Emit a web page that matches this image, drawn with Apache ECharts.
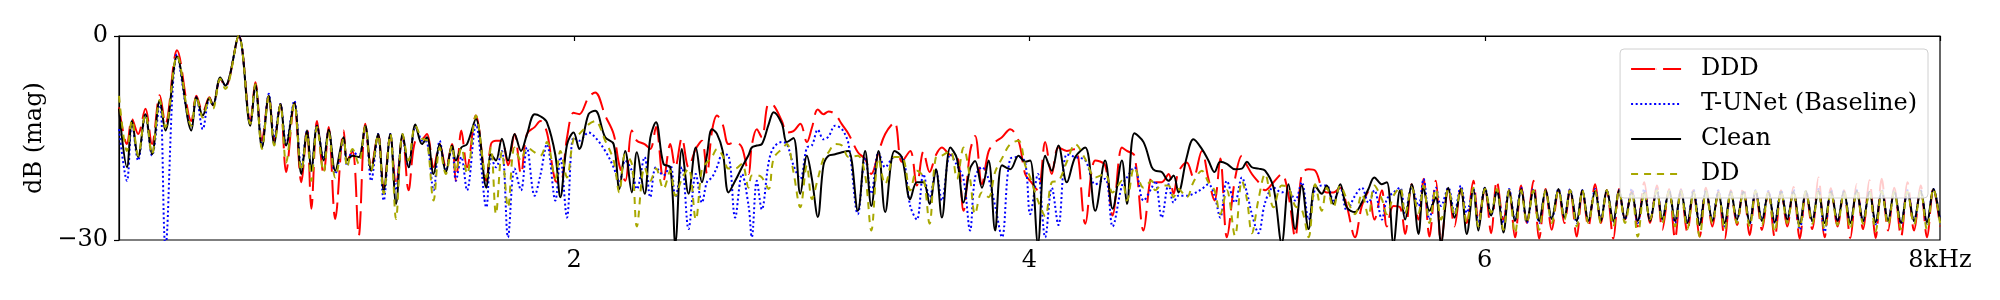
<!DOCTYPE html>
<html>
<head>
<meta charset="utf-8">
<script src="https://cdn.jsdelivr.net/npm/echarts/dist/echarts.min.js"></script>
<style>
html,body{margin:0;padding:0;background:#fff;}
#chart{width:2000px;height:300px;}
</style>
</head>
<body>
<div id="chart"></div>
<script>
// Frequencies (Hz) of the sampled points
var freqHz = [
0,35,57,84,116,145,179,204,255,318,340,368,397,413,445,467,526,577,599,628,658,682,709,734,770,801,826,845,870,899,921,950,987,1002,1026,1053,1082,1108,
1138,1163,1192,1217,1246,1272,1302,1331,1353,1382,1409,1436,1463,1480,1504,1529,1568,1614,1634,1656,1682,1709,1738,1766,1792,1826,1851,1880,1917,1939,1968,1997,2022,2063,2092,2136,2173,2198,2224,2253,
2275,2309,2334,2359,2392,2422,2444,2473,2502,2534,2561,2583,2605,2627,2652,2678,2707,2737,2766,2780,2802,2824,2854,2876,2912,2934,2963,2993,3022,3044,3070,3095,3117,3146,3176,3205,3246,3278,3305,3337,3366,3407,
3439,3476,3505,3534,3561,3589,3615,3652,3681,3710,3739,3761,3791,3820,3849,3879,3915,3952,3981,4003,4037,4069,4098,4127,4164,4201,4245,4289,4332,4365,4406,4428,4461,4501,4537,
4552,4581,4611,4633,4654,4691,4720,4757,4786,4813,4838,4867,4903,4933,4955,4977,5006,5035,5072,5108,5138,5167,5196,5226,5255,5284,5306,5335,5365,5394,5430,5460,5489,5515,5548,5570,5599,5628,5650,5679,
5709,5731,5757,5785,5808,5840,5867,5895,5921,5950,5972,6001,6028,6053,6082,6107,6133,6160,6185,6214,6239,6268,6294,6324,6350,6375,6404,6429,6455,6485,6510,6536,6565,6590,6616,6646,6672,6701,6726,6756,6780,6810,6836,
6862,6890,6917,6944,6972,7000,7026,7054,7081,7108,7136,7164,7190,7218,7246,7274,7302,7329,7356,7384,7411,7439,7466,7493,7521,7550,7578,7606,7634,7662,7690,7717,7744,7772,7799,7829,7857,7886,7915,7943,7971,8000
];

// DDD (dB)
var dddDb = [
-10.5,-15.9,-12.2,-14.4,-10.7,-15.9,-8.7,-12.9,-2.1,-12.5,-8.8,-11.2,-9.0,-10.2,-6.3,-7.5,0,-12.5,-6.8,-15.4,-8.8,-15.4,-10.0,-20.0,-9.8,-21.5,-13.5,-25.4,-12.5,-20.3,-13.4,-26.9,-13.9,-18.3,-16.9,-29.4,-12.9,-19.3,
-14.4,-22.3,-14.6,-22.0,-14.6,-22.7,-15.4,-15.2,-14.4,-19.3,-15.9,-19.3,-15.9,-21.3,-13.9,-19.3,-11.7,-21.3,-15.9,-15.4,-15.4,-19.0,-14.4,-20.3,-14.4,-13.4,-12.5,-14.2,-21.3,-21.5,-15.0,-11.3,-11.5,-9.0,-8.3,-11.7,-14.4,-19.0,-21.3,-13.9,
-15.4,-15.9,-16.6,-13.4,-21.3,-15.9,-19.3,-15.0,-19.3,-16.6,-15.4,-20.3,-14.0,-11.7,-13.0,-15.9,-15.6,-16.4,-20.3,-16.1,-13.7,-14.9,-10.0,-10.2,-12.5,-14.2,-14.0,-12.9,-15.6,-13.5,-10.8,-11.5,-11.1,-11.5,-13.0,-14.4,-17.1,-18.1,-20.3,-17.1,-14.4,-12.7,
-18.5,-16.9,-22.0,-17.0,-20.0,-17.5,-16.4,-17.5,-17.6,-25.7,-17.0,-14.7,-21.8,-17.0,-15.6,-14.9,-13.7,-15.4,-20.3,-21.3,-22.7,-15.6,-20.3,-16.4,-16.9,-16.6,-27.6,-18.3,-19.0,-26.4,-16.4,-16.9,-17.6,-28.6,-20.8,
-21.5,-21.5,-20.3,-23.2,-20.0,-18.6,-20.8,-16.9,-21.0,-24.2,-18.0,-29.6,-21.0,-17.6,-19.0,-20.3,-21.5,-22.7,-21.5,-20.3,-23.5,-29.6,-20.3,-19.6,-19.8,-22.3,-23.0,-23.0,-22.3,-25.0,-29.6,-25.0,-23.0,-27.0,-22.7,-28.0,-25.0,-25.2,-29.1,-21.8,
-27.0,-21.0,-29.5,-21.3,-30.5,-22.3,-28.0,-22.5,-27.5,-21.3,-27.0,-22.5,-29.0,-21.3,-27.0,-22.7,-29.6,-22.0,-27.5,-21.3,-29.8,-22.5,-28.5,-22.7,-27.5,-22.5,-29.5,-22.7,-28.0,-21.8,-27.5,-22.7,-29.8,-22.5,-27.0,-22.7,-28.0,-21.5,-27.5,-22.0,-28.5,-22.5,-29.8,
-22.5,-28.8,-22.7,-29.5,-22.3,-28.0,-22.8,-29.8,-22.7,-27.8,-22.2,-29.3,-22.6,-28.5,-22.8,-29.6,-22.7,-28.0,-22.2,-29.8,-22.7,-28.4,-20.8,-29.6,-22.4,-28.0,-22.7,-29.7,-21.8,-28.4,-21.2,-29.7,-21.0,-28.6,-22.3,-29.5,-21.5,-28.6,-22.0,-29.6,-22.4,-28.0
];

// T-UNet (Baseline) (dB)
var tunetDb = [
-13.7,-21.3,-12.7,-18.3,-11.7,-17.6,-9.5,-31,-2.7,-13.4,-9.0,-13.7,-9.3,-10.2,-6.3,-7.3,0,-12.9,-7.3,-16.1,-8.5,-14.9,-10.0,-15.9,-9.5,-19.3,-13.9,-19.8,-13.2,-18.1,-13.9,-20.3,-15.4,-19.1,-16.9,-17.8,-13.4,-21.3,
-14.4,-24.2,-14.4,-22.7,-14.9,-19.3,-13.4,-15.4,-15.6,-22.7,-15.4,-19.8,-16.4,-21.3,-17.8,-22.7,-13.0,-25.2,-17.8,-19.3,-16.9,-29.6,-19.5,-22.7,-16.4,-23.5,-20.5,-15.9,-24.2,-17.8,-26.7,-14.9,-15.4,-14.2,-14.9,-16.9,-19.3,-21.5,-18.3,-19.8,
-22.5,-17.8,-23.7,-19.3,-20.5,-19.0,-23.7,-19.3,-28.4,-20.3,-24.5,-21.5,-20.8,-19.3,-17.4,-17.6,-26.7,-20.3,-25.0,-29.6,-21.3,-25.5,-18.6,-16.4,-15.6,-15.9,-19.0,-21.0,-16.4,-16.1,-13.8,-15.2,-14.8,-13.2,-13.7,-15.9,-26.2,-17.8,-23.2,-17.1,-19.3,-17.8,
-17.8,-25.0,-27.0,-20.3,-23.7,-19.8,-24.2,-17.4,-19.0,-21.0,-28.6,-20.8,-19.3,-21.0,-25.0,-29.6,-18.1,-17.8,-18.6,-26.2,-20.3,-29.6,-22.3,-27.8,-17.4,-17.8,-18.3,-21.8,-21.0,-28.0,-22.0,-20.8,-19.3,-24.2,-22.3,
-21.3,-26.7,-21.8,-24.5,-23.5,-23.5,-23.2,-22.5,-21.8,-23.5,-26.7,-21.3,-24.5,-20.8,-23.0,-26.2,-29.0,-24.5,-22.3,-23.0,-22.7,-24.2,-21.5,-27.0,-22.5,-22.0,-22.0,-24.2,-22.3,-25.7,-23.5,-22.3,-24.5,-22.7,-27.0,-24.0,-23.0,-22.3,-26.2,-22.3,
-25.0,-21.0,-27.0,-22.3,-25.0,-22.3,-26.0,-22.0,-26.0,-22.5,-27.5,-22.3,-26.4,-22.7,-27.5,-22.5,-27.0,-22.3,-27.5,-22.5,-27.5,-22.7,-27.0,-22.5,-26.7,-22.5,-27.5,-22.7,-27.2,-22.5,-27.0,-22.7,-27.5,-22.7,-27.0,-22.5,-27.5,-22.5,-27.0,-22.5,-27.0,-22.7,-27.5,
-22.7,-27.5,-22.6,-27.5,-22.7,-27.2,-22.7,-28.0,-22.9,-27.0,-22.8,-27.6,-22.7,-27.0,-22.8,-27.5,-22.7,-27.0,-22.6,-28.5,-22.8,-27.2,-22.5,-28.8,-22.7,-27.2,-22.8,-27.6,-22.7,-27.2,-22.8,-27.7,-22.6,-27.2,-22.8,-27.6,-22.7,-27.2,-22.7,-27.6,-22.5,-27.0
];

// Clean (dB)
var cleanDb = [
-10.7,-19.3,-12.5,-17.8,-11.5,-17.4,-9.5,-13.9,-3.0,-13.9,-9.0,-11.7,-9.1,-10.2,-6.1,-7.3,0,-13.2,-7.1,-16.4,-8.8,-15.9,-10.0,-16.1,-9.8,-20.3,-13.9,-19.8,-13.2,-18.3,-13.8,-19.8,-14.9,-18.3,-17.6,-17.8,-13.2,-19.8,
-14.4,-22.7,-14.4,-24.7,-14.4,-19.3,-13.0,-15.9,-14.9,-20.3,-15.9,-20.0,-16.1,-18.3,-16.4,-15.9,-12.2,-22.3,-17.4,-18.3,-15.1,-18.3,-14.4,-16.9,-14.5,-11.5,-11.8,-12.7,-17.5,-23.7,-16.0,-14.2,-16.6,-11.5,-11.0,-14.9,-15.9,-22.5,-16.9,-23.0,
-17.1,-23.2,-15.0,-12.7,-18.8,-19.3,-30.5,-16.6,-23.2,-16.4,-21.5,-17.5,-13.7,-14.4,-16.9,-23.0,-21.3,-19.3,-17.5,-16.4,-16.1,-15.9,-13.0,-11.2,-12.9,-15.6,-15.0,-23.2,-17.6,-21.0,-26.6,-19.0,-17.6,-17.4,-17.1,-16.9,-25.7,-16.9,-25.0,-16.9,-25.9,-16.9,
-17.8,-24.0,-21.5,-21.5,-24.7,-19.6,-26.7,-16.4,-18.0,-24.5,-19.5,-18.4,-22.3,-18.3,-28.6,-19.0,-19.6,-17.6,-18.5,-18.3,-30.5,-17.6,-19.8,-16.1,-21.5,-17.8,-16.4,-25.7,-18.3,-25.4,-18.3,-24.7,-14.3,-15.6,-19.3,
-19.8,-20.0,-21.3,-20.5,-23.0,-17.8,-15.2,-16.6,-18.3,-20.0,-18.5,-18.8,-19.6,-19.5,-18.5,-19.3,-19.5,-19.8,-22.3,-30.5,-21.8,-28.4,-22.0,-28.4,-22.0,-23.2,-22.0,-24.7,-21.8,-25.2,-25.9,-24.5,-22.5,-20.8,-21.8,-21.5,-30.5,-22.7,-27.0,-21.8,
-29.1,-22.3,-25.7,-23.7,-30.5,-22.3,-26.7,-22.5,-29.1,-22.5,-28.6,-22.3,-26.4,-22.7,-28.9,-22.7,-27.2,-22.5,-27.2,-22.7,-27.2,-22.7,-26.9,-22.5,-26.7,-22.7,-27.2,-22.7,-27.2,-22.8,-27.2,-22.7,-27.2,-22.7,-26.9,-23.0,-27.2,-23.0,-27.2,-22.7,-26.9,-22.8,-27.2,
-22.8,-27.5,-22.9,-27.8,-22.8,-27.2,-23.0,-27.5,-22.9,-27.0,-22.9,-27.5,-22.8,-27.2,-23.0,-27.4,-22.9,-27.0,-22.9,-27.6,-22.8,-27.2,-22.8,-27.5,-22.9,-27.2,-22.9,-27.5,-22.8,-27.2,-22.9,-27.4,-22.8,-27.2,-22.9,-27.5,-22.9,-27.2,-22.8,-27.4,-22.5,-27.2
];

// DD (dB)
var ddDb = [
-8.8,-16.9,-12.4,-17.6,-11.5,-17.4,-9.4,-13.4,-2.9,-13.2,-8.9,-12.0,-9.1,-10.7,-6.3,-7.8,0,-12.9,-7.1,-16.6,-8.9,-16.1,-10.1,-18.6,-10.0,-19.8,-14.4,-21.3,-13.4,-20.0,-14.2,-20.8,-15.1,-19.3,-16.6,-18.8,-13.3,-19.8,
-14.6,-23.2,-14.4,-26.9,-14.4,-18.3,-13.2,-15.1,-15.4,-24.2,-16.4,-20.3,-16.1,-20.0,-16.4,-20.3,-11.7,-20.8,-16.4,-26.2,-17.0,-25.2,-16.4,-18.3,-16.4,-17.1,-17.6,-15.6,-21.0,-16.9,-20.8,-15.1,-14.4,-13.0,-12.5,-15.4,-18.3,-23.0,-17.4,-18.8,
-28.0,-19.3,-21.3,-19.5,-22.5,-19.8,-23.5,-21.0,-19.5,-27.0,-19.5,-18.6,-17.8,-16.6,-17.6,-19.5,-19.5,-18.8,-22.3,-20.5,-20.5,-20.8,-22.5,-18.0,-16.6,-15.9,-20.0,-25.2,-19.0,-24.0,-21.0,-18.0,-17.1,-15.9,-16.1,-17.8,-17.6,-20.5,-28.6,-18.0,-21.8,-17.8,
-17.8,-22.7,-19.8,-20.8,-27.6,-17.8,-17.6,-16.9,-21.0,-16.4,-21.0,-26.2,-23.0,-23.7,-20.0,-18.0,-15.9,-15.4,-19.0,-20.8,-24.2,-26.5,-21.5,-21.3,-18.5,-15.9,-18.1,-20.8,-20.3,-23.0,-21.3,-24.2,-19.3,-22.3,-21.3,
-22.7,-22.0,-22.0,-23.7,-22.5,-23.7,-21.5,-19.8,-21.5,-22.7,-26.2,-22.7,-29.4,-21.3,-24.0,-29.0,-24.0,-20.3,-25.2,-22.0,-22.3,-25.0,-25.5,-29.6,-21.8,-25.7,-22.3,-25.2,-22.0,-24.0,-26.2,-23.2,-26.5,-22.0,-24.0,-26.2,-23.5,-22.3,-26.2,-22.3,
-26.0,-22.0,-27.5,-22.5,-27.0,-22.5,-26.5,-22.5,-27.5,-22.3,-28.0,-22.5,-26.0,-22.5,-28.5,-22.7,-29.0,-22.7,-27.5,-22.7,-28.5,-22.7,-27.5,-22.7,-27.0,-22.7,-28.0,-22.7,-27.5,-22.8,-27.5,-22.7,-28.0,-22.7,-27.5,-23.0,-29.5,-22.8,-27.0,-22.7,-27.5,-22.8,-28.0,
-22.8,-28.4,-22.9,-29.5,-22.8,-27.5,-23.0,-28.5,-22.9,-27.5,-22.9,-28.0,-22.8,-27.8,-23.0,-28.8,-22.9,-27.5,-22.9,-28.2,-22.8,-27.6,-22.8,-28.5,-22.9,-27.8,-22.9,-28.4,-22.8,-27.6,-22.9,-28.7,-22.8,-27.8,-22.9,-28.4,-22.9,-27.7,-22.8,-28.5,-22.5,-27.5
];

var seriesNames = ['DDD', 'T-UNet (Baseline)', 'Clean', 'DD'];
var xTickValues = [2000, 4000, 6000, 8000];
var yTickValues = [-30, 0];

function pairs(vals) {
  return freqHz.map(function (f, i) { return [f, vals[i]]; });
}

var FONT = 'DejaVu Serif';
var chart = echarts.init(document.getElementById('chart'), null, {renderer: 'canvas'});

function lineSeries(name, vals, color, dash, width) {
  return {
    name: name,
    type: 'line',
    data: pairs(vals),
    showSymbol: false,
    symbol: 'none',
    smooth: 0.35,
    clip: true,
    animation: false,
    lineStyle: {color: color, width: width, type: dash, cap: 'butt'},
    itemStyle: {color: color}
  };
}

chart.setOption({
  animation: false,
  backgroundColor: '#ffffff',
  grid: {left: 119, right: 60, top: 36, bottom: 60, show: true, borderColor: '#000', borderWidth: 1.2, containLabel: false},
  xAxis: {
    type: 'value', min: 0, max: 8000, interval: 2000,
    axisLine: {show: true, lineStyle: {color: '#000', width: 1.2}},
    axisTick: {show: true, length: 5, inside: false, lineStyle: {color: '#000', width: 1.2}, customValues: xTickValues},
    axisLabel: {
      show: true, color: '#000', fontFamily: FONT, fontSize: 24, margin: 9,
      customValues: xTickValues,
      formatter: function (v) { return v === 8000 ? '8kHz' : String(v / 1000); }
    },
    splitLine: {show: false}
  },
  yAxis: {
    type: 'value', min: -30, max: 0, interval: 30,
    name: 'dB (mag)', nameLocation: 'middle', nameGap: 68, nameRotate: 90,
    nameTextStyle: {color: '#000', fontFamily: FONT, fontSize: 24},
    axisLine: {show: true, lineStyle: {color: '#000', width: 1.2}},
    axisTick: {show: true, length: 5, inside: false, lineStyle: {color: '#000', width: 1.2}, customValues: yTickValues},
    axisLabel: {
      show: true, color: '#000', fontFamily: FONT, fontSize: 24, margin: 11,
      customValues: yTickValues,
      formatter: function (v) { return v < 0 ? '\u2212' + Math.abs(v) : String(v); }
    },
    splitLine: {show: false}
  },
  legend: {
    data: seriesNames,
    orient: 'vertical',
    right: 72, top: 49,
    itemWidth: 50, itemHeight: 1, itemGap: 7,
    padding: [6, 11, 10, 10],
    backgroundColor: 'rgba(255,255,255,0.8)',
    borderColor: '#d0d0d0', borderWidth: 1, borderRadius: 4,
    textStyle: {color: '#000', fontFamily: FONT, fontSize: 24, lineHeight: 28, padding: [0, 0, 0, 15]},
    selectedMode: false
  },
  series: [
    lineSeries(seriesNames[0], dddDb, '#ff0000', [24, 8], 2),
    lineSeries(seriesNames[1], tunetDb, '#0000ff', [2, 2.6], 2),
    lineSeries(seriesNames[2], cleanDb, '#000000', 'solid', 2),
    lineSeries(seriesNames[3], ddDb, '#a8a800', [7, 6], 2)
  ]
});
</script>
</body>
</html>
